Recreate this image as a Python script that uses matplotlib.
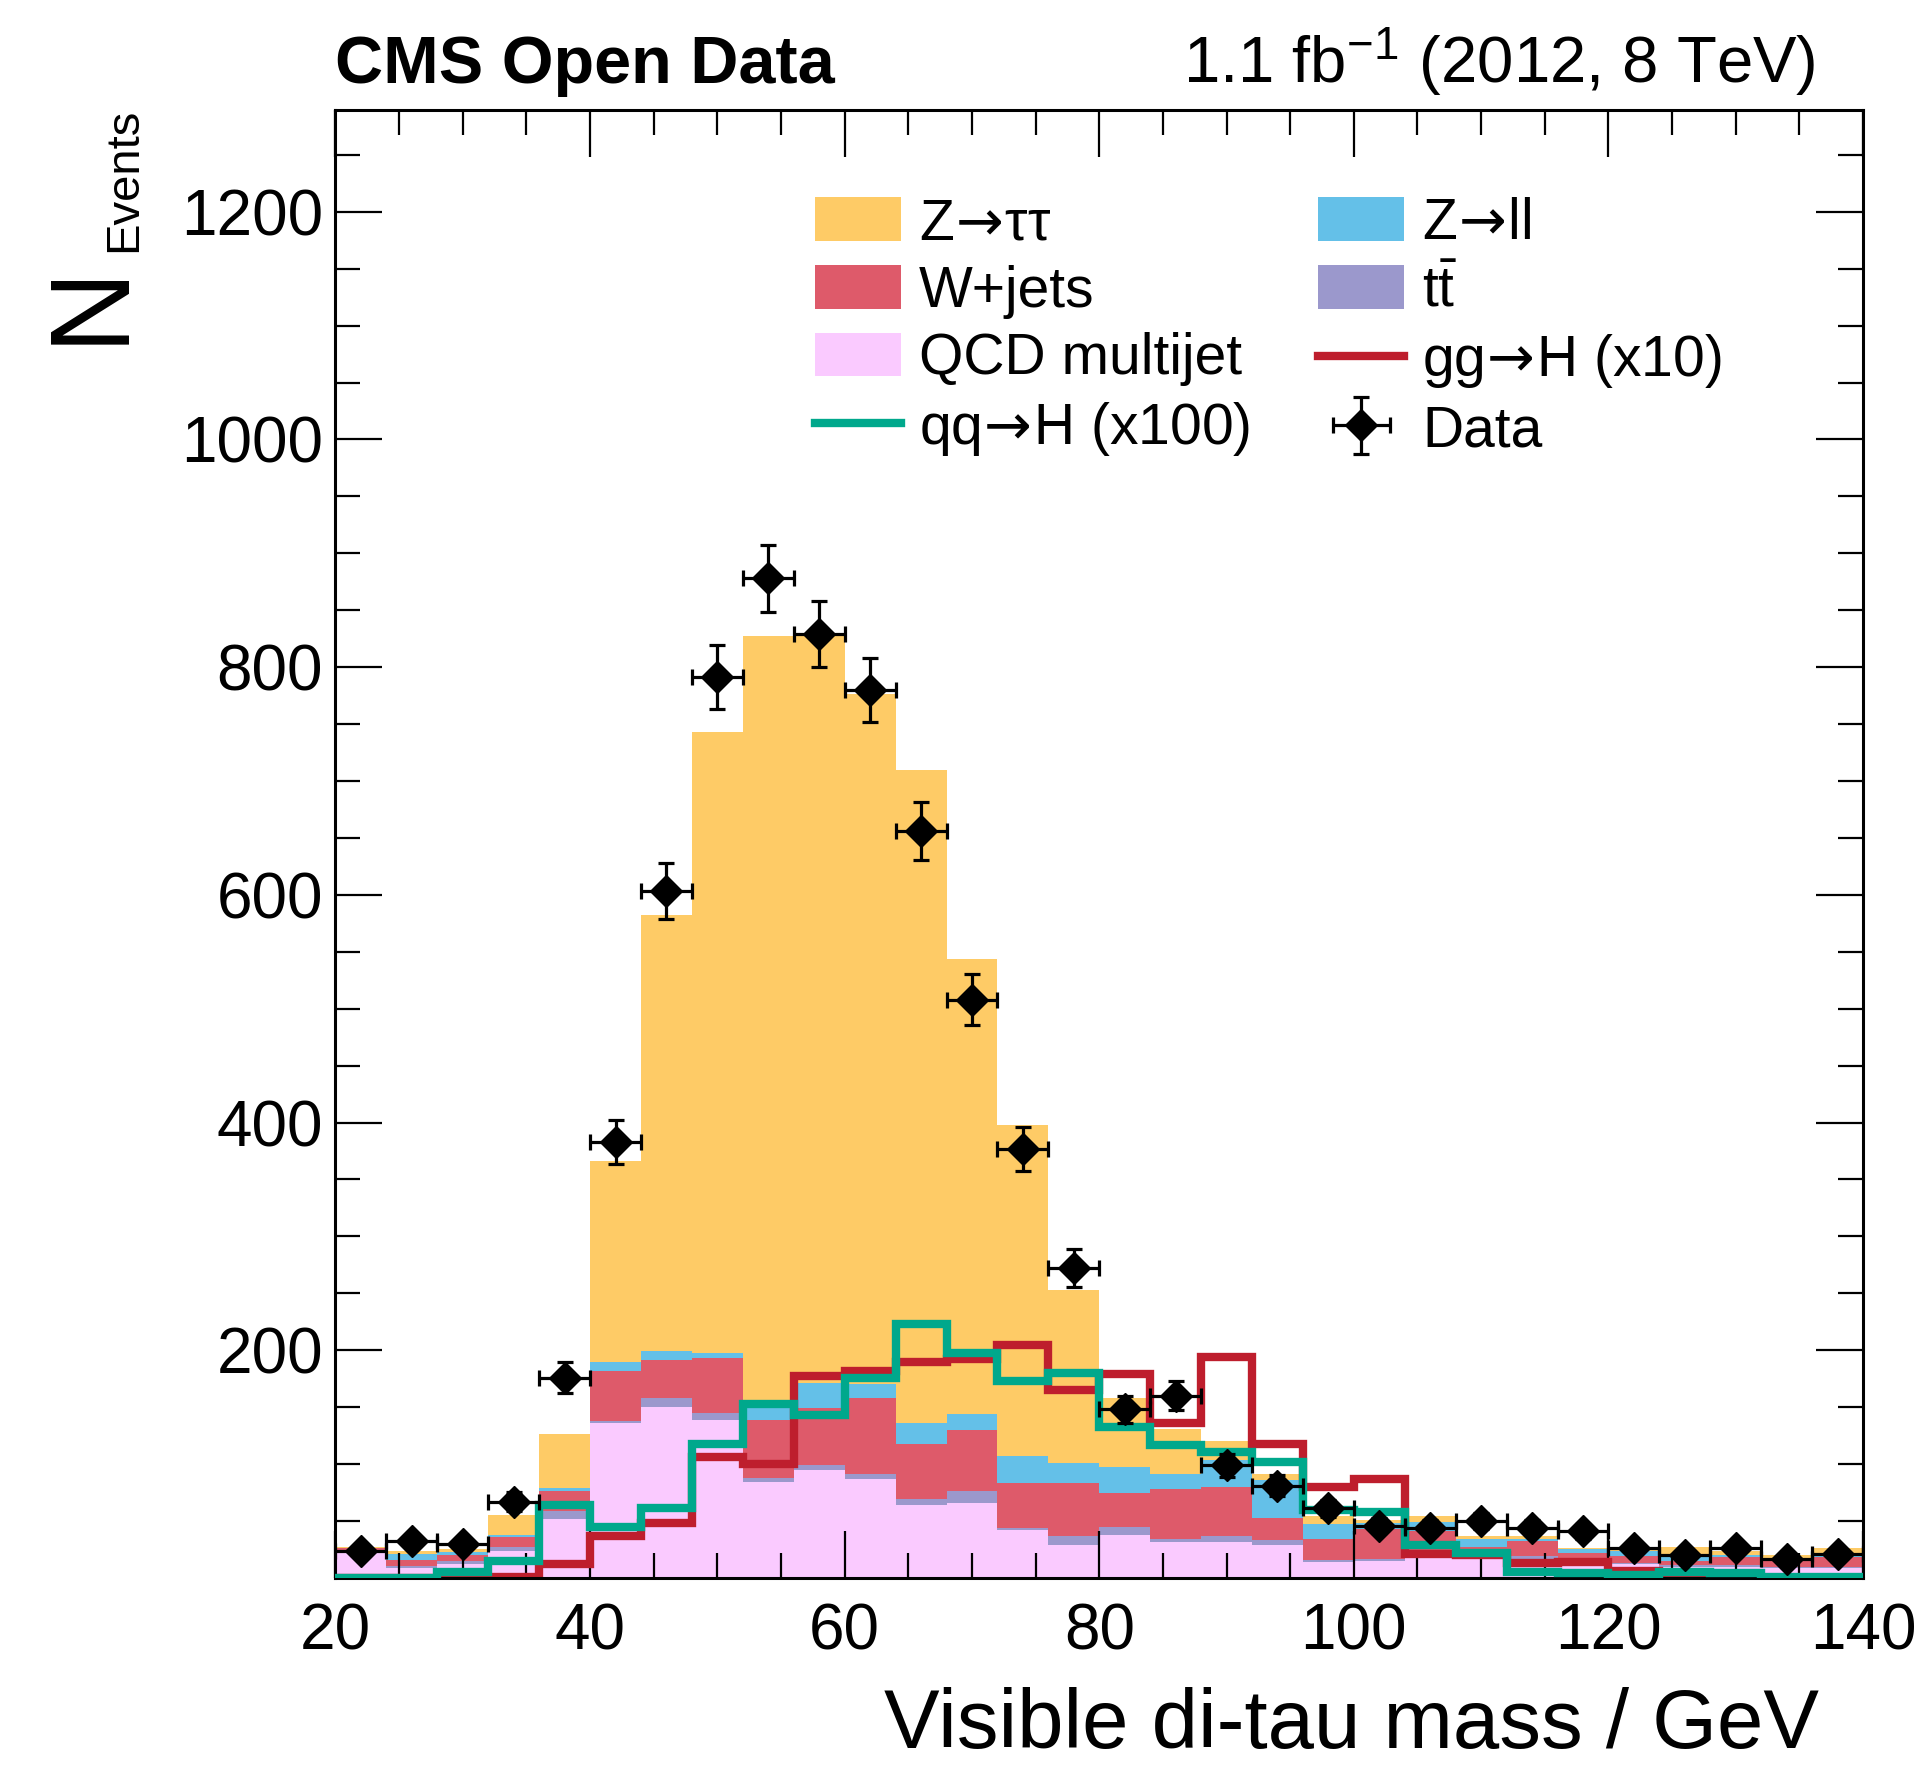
"""
Visible di-tau mass, stacked backgrounds + Higgs signals + data (CMS Open Data style).
"""

import numpy as np
import matplotlib
matplotlib.use("Agg")
import matplotlib.pyplot as plt
from matplotlib.patches import Patch
from matplotlib.lines import Line2D
from matplotlib.ticker import FixedLocator, MultipleLocator

plt.rcParams["font.family"] = ["Liberation Sans", "DejaVu Sans"]
plt.rcParams["mathtext.fontset"] = "custom"
plt.rcParams["mathtext.rm"] = "Liberation Sans"
plt.rcParams["mathtext.it"] = "Liberation Sans:italic"
plt.rcParams["mathtext.bf"] = "Liberation Sans:bold"
plt.rcParams["mathtext.sf"] = "DejaVu Sans"  # only used for the long arrow

# ---------------------------------------------------------------------------
# Data, 4 GeV bins from 20 to 140 GeV
# ---------------------------------------------------------------------------
bin_edges = [20, 24, 28, 32, 36, 40, 44, 48, 52, 56, 60, 64, 68, 72, 76, 80,
             84, 88, 92, 96, 100, 104, 108, 112, 116, 120, 124, 128, 132, 136, 140]

qcd = [22, 8.5, 12, 24, 52, 136, 150, 139, 84, 95, 87, 64, 66, 42, 29,
       38, 31.5, 31.5, 28.5, 14, 15, 20, 19, 17, 12, 12, 10, 10, 9, 9]
ttbar = [1, 2, 3, 3, 7, 2, 8, 6, 4, 4, 4, 5, 10, 2, 8,
         7, 3, 5.5, 4.5, 2, 2, 1.5, 1, 2, 2, 1, 1, 1.5, 1, 1]
wjets = [3, 5.5, 5, 9, 17, 44, 33, 48, 51, 50, 67, 49, 54, 39, 46,
         30, 43.5, 43, 20, 18, 26, 20, 7, 13, 8, 6, 4, 7, 6, 8]
zll = [0.5, 5, 3, 2, 3, 8, 8, 5, 12, 22, 12, 18, 14, 24, 18,
       22, 13, 24, 33, 13, 5, 8, 7, 2, 3, 5, 3, 2, 1, 2]
ztt = [0.5, 3, 2, 17, 47, 176, 383, 545, 676, 656, 606, 574, 400, 291, 152,
       61, 40, 16, 5, 7, 3, 5, 3, 3, 1, 1, 9, 3, 3, 6]

ggh_x10 = [0, 0, 0, 1, 12, 37, 48, 106, 100, 177, 182, 190, 192, 205, 165,
           179, 136, 194, 118, 80, 87, 21, 20, 13, 14, 6, 0, 0, 0, 0]
qqh_x100 = [0, 0, 5, 15, 64, 45, 61, 118, 153, 143, 176, 223, 198, 173, 180,
            133, 117, 111, 102, 60, 58, 29, 22, 5, 4, 2.6, 5, 4, 1.2, 1.2]

data = [24, 32, 30, 67, 176, 383, 603, 791, 878, 829, 780, 656, 508, 377, 272,
        148, 160, 99, 81, 61, 46, 44, 50, 44, 41, 26, 20, 26, 17, 21]

# Colours
C_ZTT = "#FECB66"
C_ZLL = "#64C0E8"
C_W = "#DE5A6A"
C_TT = "#9B98CC"
C_QCD = "#FACAFF"
C_GGH = "#BE1E2D"
C_QQH = "#00A88C"

ARROW = r"$\!\mathsf{\rightarrow}\!$"

# ---------------------------------------------------------------------------
# Figure
# ---------------------------------------------------------------------------
fig = plt.figure(figsize=(19.27, 17.67), dpi=100)
ax = fig.add_axes([0.1741, 0.107, 0.7927, 0.8305])

edges = np.array(bin_edges, dtype=float)
centers = 0.5 * (edges[:-1] + edges[1:])
half_width = 0.5 * np.diff(edges)

# Stacked backgrounds, bottom to top
base = np.zeros(len(centers))
for vals, colour in [(qcd, C_QCD), (ttbar, C_TT), (wjets, C_W), (zll, C_ZLL), (ztt, C_ZTT)]:
    top = base + np.array(vals, dtype=float)
    ax.stairs(top, edges, baseline=base, fill=True, color=colour, lw=0, zorder=1)
    base = top

# Signals
ax.stairs(ggh_x10, edges, baseline=None, color=C_GGH, lw=6, zorder=2)
ax.stairs(qqh_x100, edges, baseline=None, color=C_QQH, lw=6, zorder=3)

# Data
data_arr = np.array(data, dtype=float)
h_data = ax.errorbar(centers, data_arr, xerr=half_width, yerr=np.sqrt(data_arr),
                     fmt="D", color="black", ms=16, lw=2.3, capsize=6,
                     capthick=2.3, zorder=5)

ax.set_xlim(20, 140)
ax.set_ylim(0, 1289)

ax.xaxis.set_major_locator(MultipleLocator(20))
ax.xaxis.set_minor_locator(MultipleLocator(5))
ax.yaxis.set_major_locator(FixedLocator([200, 400, 600, 800, 1000, 1200]))
ax.yaxis.set_minor_locator(MultipleLocator(50))
ax.tick_params(which="both", direction="in", top=True, right=True,
               width=1.6, labelsize=46)
ax.tick_params(which="major", length=34)
ax.tick_params(which="minor", length=18)
ax.tick_params(axis="x", pad=18)
ax.tick_params(axis="y", pad=9)
for sp in ax.spines.values():
    sp.set_linewidth(2.2)

ax.set_xlabel("Visible di-tau mass / GeV", fontsize=60, ha="right", va="baseline")
ax.xaxis.set_label_coords(0.971, -0.116)

fig.text(92 / 1927, 1 - 344 / 1767, "N", rotation=90, ha="center",
         va="bottom", fontsize=82)
fig.text(124 / 1927, 1 - 252 / 1767, "Events", rotation=90, ha="center",
         va="bottom", fontsize=34)

ax.text(0.0, 1.0184, "CMS Open Data", transform=ax.transAxes, ha="left",
        va="baseline", fontsize=48, fontweight="bold")
ax.text(0.969, 1.0184, r"1.1 fb$^{-1}$ (2012, 8 TeV)", transform=ax.transAxes,
        ha="right", va="baseline", fontsize=47)

# Legend (column-major fill)
handles = [
    Patch(facecolor=C_ZTT, edgecolor="none"),
    Patch(facecolor=C_W, edgecolor="none"),
    Patch(facecolor=C_QCD, edgecolor="none"),
    Line2D([], [], color=C_QQH, lw=6),
    Patch(facecolor=C_ZLL, edgecolor="none"),
    Patch(facecolor=C_TT, edgecolor="none"),
    Line2D([], [], color=C_GGH, lw=6),
    h_data,
]
labels = [
    "Z" + ARROW + "\u03c4\u03c4", "W+jets", "QCD multijet", "qq" + ARROW + "H (x100)",
    "Z" + ARROW + "ll", r"t$\bar{\mathrm{t}}$", "gg" + ARROW + "H (x10)", "Data",
]
ax.legend(handles, labels, ncol=2, loc="upper left", bbox_to_anchor=(0.314, 0.941),
          frameon=False, fontsize=41, borderpad=0, borderaxespad=0,
          handlelength=1.5, handleheight=0.8, handletextpad=0.32,
          columnspacing=1.2, labelspacing=0.24)

fig.savefig("out.png", dpi=100)
